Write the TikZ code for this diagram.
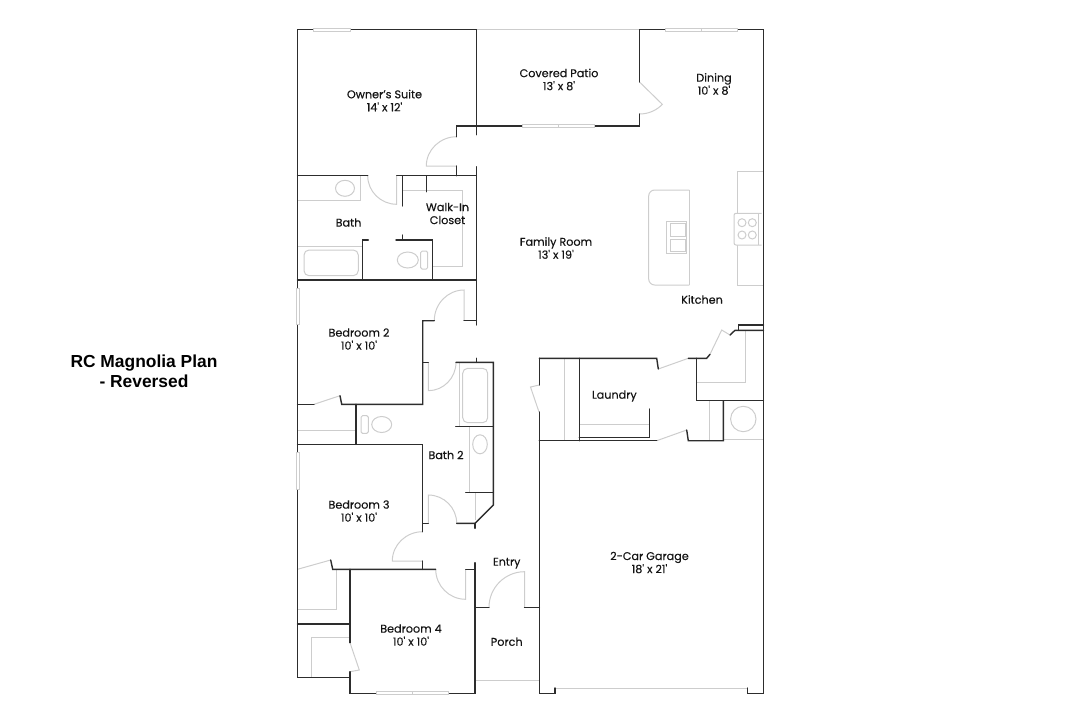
\documentclass[tikz,border=0pt]{standalone}
\usepackage{fontspec}
\setmainfont{Poppins}[Ligatures=TeXOff]
\newfontfamily\titlefont{Liberation Sans}
\usetikzlibrary{calc}
\definecolor{Wall}{RGB}{45, 45, 45}
\definecolor{Fixture}{RGB}{205, 205, 205}
\definecolor{Label}{RGB}{20, 20, 20}
\tikzset{
    wall/.style={draw=Wall, line width=1.4pt, line cap=round, line join=miter},
    fixture/.style={draw=Fixture, line width=1pt},
    windowbox/.style={draw=Fixture, line width=0.9pt, fill=white},
    roomlabel/.style={text=Label, font=\fontsize{11.2}{13}\selectfont\addfontfeature{FakeBold=0.25}, align=center, inner sep=0pt},
    titlelabel/.style={text=black, font=\titlefont\bfseries\fontsize{17.4}{20}\selectfont, align=center, inner sep=0pt}
}
% door swing: free end, hinge-side corner, other end, hinge
\newcommand{\doorswing}[4]{
    \draw[fixture] (#1) .. controls ($(#1)!0.55!(#2)$) and ($(#3)!0.55!(#2)$) .. (#3) -- (#4);
}
\begin{document}
\begin{tikzpicture}[x=1pt, y=-1pt]
    \useasboundingbox (0,0) rectangle (1085,723);

    % Fixtures: owner's bath and closet
    \draw[fixture] (297,200.3) -- (360.7,200.3) -- (360.7,175.7);
    \draw[fixture] (345,188.3) ellipse (9.5 and 8);
    \draw[fixture] (297,246) -- (362,246);
    \draw[fixture, rounded corners=5pt] (358.3,250) -- (304,250) -- (304,275.7) -- (358.3,275.7) -- cycle;
    \draw[fixture, rounded corners=1.5pt] (420.7,251) rectangle (427.7,269);
    \draw[fixture] (407.8,260) ellipse (10.5 and 8);
    \draw[fixture] (402.7,190.7) -- (462.7,190.7) -- (462.7,266.7) -- (433,266.7);

    % Fixtures: kitchen
    \draw[fixture, rounded corners=6pt] (689.3,190) -- (648.7,190) -- (648.7,285) -- (689.3,285);
    \draw[fixture] (689.3,190) -- (689.3,285);
    \draw[fixture] (666.7,221) rectangle (686.7,253.3);
    \draw[fixture] (670.7,223.3) rectangle (685,236);
    \draw[fixture] (670.7,239) rectangle (685,251.7);
    \draw[fixture] (763,171) -- (737.3,171) -- (737.3,285.7) -- (763,285.7);
    \draw[fixture, fill=white, rounded corners=2pt] (761.7,213.3) -- (734,213.3) -- (734,245) -- (761.7,245);
    \draw[fixture] (758.3,213.3) -- (758.3,245);
    \foreach \burnerx in {742, 752.3} {
        \foreach \burnery in {222.7, 235} {
            \draw[fixture] (\burnerx,\burnery) circle (4);
        }
    }

    % Fixtures: pantry, laundry, mechanical
    \draw[fixture] (745,330.3) -- (745,382.3) -- (696.7,382.3);
    \draw[fixture] (564.7,358.3) -- (564.7,440.7);
    \draw[fixture] (579.3,424.3) -- (649.3,424.3);
    \draw[fixture] (709.3,400.7) -- (709.3,440.7);
    \draw[fixture] (743.3,419) circle (12.7);
    \draw[fixture] (723.3,439) -- (763.5,439);

    % Fixtures: bath 2
    \draw[fixture] (459.3,362.3) -- (459.3,426.7);
    \draw[fixture, rounded corners=5pt] (462.7,422.7) -- (462.7,368.3) -- (487.7,368.3) -- (487.7,422.7) -- cycle;
    \draw[fixture] (469.3,426.7) -- (469.3,492.7);
    \draw[fixture] (480,444.3) ellipse (7.3 and 9.5);
    \draw[fixture] (475.3,492.7) -- (475.3,520);
    \draw[fixture, rounded corners=1.5pt] (361,415.7) rectangle (368.3,433.3);
    \draw[fixture] (381.7,424.5) ellipse (10 and 8);

    % Fixtures: bedroom closets
    \draw[fixture] (297.5,430.7) -- (356,430.7);
    \draw[fixture] (297.5,609.3) -- (336,609.3) -- (336,569.3);
    \draw[fixture] (311.7,677.7) -- (311.7,637.3) -- (350,637.3);

    % Open edges of patio and porch
    \draw[fixture] (476.3,29.7) -- (639.5,29.7);
    \draw[fixture] (475,680) -- (539.3,680);
    \draw[fixture] (555,688) -- (747.3,688);

    % Door leaves
    \doorswing{456.7,136.7}{426.3,136.7}{426.3,166}{456.7,166}
    \doorswing{367.7,175.7}{367.7,204.3}{396.7,204.3}{396.7,175.7}
    \doorswing{434.3,320.7}{434.3,290}{464,290}{464,320.7}
    \doorswing{456,362.3}{456,390.7}{428.3,390.7}{428.3,362.3}
    \doorswing{456.7,523.3}{456.7,495}{428.3,495}{428.3,523.3}
    \doorswing{422.7,531.7}{392.3,531.7}{392.3,561}{422.7,561}
    \doorswing{435.7,569.3}{435.7,599.3}{465.7,599.3}{465.7,569.3}
    \doorswing{489,607.3}{489,571.7}{524.5,571.7}{524.5,607.3}
    \draw[fixture] (639.5,82) -- (662.3,104.3) .. controls (657,110) and (649,114) .. (639.5,114);
    \draw[fixture] (297.5,569.3) -- (330.7,560);
    \draw[fixture] (314,404.3) -- (340,395.7);
    \draw[fixture] (350,642.7) -- (359.3,670) -- (350,671.7);
    \draw[fixture] (710,354.3) -- (721.7,330) -- (730,335);
    \draw[fixture] (658.3,369) -- (688.3,358.3);
    \draw[fixture] (686.7,430) -- (656.7,440.7);
    \draw[fixture] (539.3,385) -- (530.5,387) -- (539,412);

    % Exterior walls
    \draw[wall] (476.3,134.7) -- (476.3,29.7) -- (297.5,29.7) -- (297.5,677.7) -- (350,677.7);
    \draw[wall] (350,671.7) -- (350,693.3) -- (475,693.3) -- (475,562.7);
    \draw[wall] (350,642.7) -- (350,569.3);
    \draw[wall] (594,126) -- (639.5,126) -- (639.5,114);
    \draw[wall] (639.5,82) -- (639.5,29.7) -- (763.5,29.7) -- (763.5,693.3) -- (747.3,693.3) -- (747.3,688);
    \draw[wall] (555,688) -- (555,693.3) -- (539.3,693.3) -- (539.3,412);
    \draw[wall] (539.3,385) -- (539.3,358.3);

    % Owner's suite walls
    \draw[wall] (521.7,126) -- (456.7,126) -- (456.7,136.7);
    \draw[wall] (456.7,166) -- (456.7,175.7);
    \draw[wall] (297.5,175.7) -- (367.7,175.7);
    \draw[wall] (396.7,175.7) -- (476.3,175.7);
    \draw[wall] (476.3,166.7) -- (476.3,325);
    \draw[wall] (402.7,175.7) -- (402.7,206);
    \draw[wall] (402.7,235) -- (402.7,240);
    \draw[wall] (426.3,175.7) -- (426.3,191.7);
    \draw[wall] (362.3,280) -- (362.3,240) -- (368.3,240);
    \draw[wall] (396,240) -- (432.7,240) -- (432.7,280);
    \draw[wall] (297.5,280) -- (476.3,280);

    % Bedroom and bath 2 walls
    \draw[wall] (434.3,320.7) -- (422.7,320.7) -- (422.7,404.3) -- (341.7,404.3) -- (340,395.7);
    \draw[wall] (464,320.7) -- (476.3,320.7);
    \draw[wall] (297.5,404.3) -- (314,404.3);
    \draw[wall] (356,404.3) -- (356,444.3);
    \draw[wall] (297.5,444.3) -- (422.7,444.3) -- (422.7,531.7);
    \draw[wall] (422.7,362.3) -- (428.3,362.3);
    \draw[wall] (476.3,358.3) -- (476.3,362.3);
    \draw[wall] (456,362.3) -- (493.3,362.3) -- (493.3,505) -- (475,523.3) -- (456.7,523.3);
    \draw[wall] (475,523.3) -- (475,528.3);
    \draw[wall] (455.7,426.7) -- (493.3,426.7);
    \draw[wall] (465.7,492.7) -- (493.3,492.7);
    \draw[wall] (422.7,523.3) -- (428.3,523.3);
    \draw[wall] (422.7,561) -- (422.7,569.3);
    \draw[wall] (330.7,560) -- (332.7,569.3) -- (435.7,569.3);
    \draw[wall] (465.7,569.3) -- (475,569.3);
    \draw[wall] (297.5,624) -- (350,624);
    \draw[wall] (475,607.3) -- (489,607.3);
    \draw[wall] (524.5,607.3) -- (539.3,607.3);

    % Laundry and kitchen walls
    \draw[wall] (539.3,358.3) -- (656.7,358.3) -- (658.3,369);
    \draw[wall] (688.3,358.3) -- (706.7,358.3) -- (710,354.3);
    \draw[wall] (730,335) -- (735,330.3) -- (763.5,330.3);
    \draw[wall] (738.3,330.3) -- (738.3,325) -- (763.5,325);
    \draw[wall] (696.7,358.3) -- (696.7,400.7) -- (763.5,400.7);
    \draw[wall] (723.3,400.7) -- (723.3,440.7) -- (688.3,440.7) -- (686.7,430);
    \draw[wall] (539.3,440.7) -- (656.7,440.7);
    \draw[wall] (579.3,358.3) -- (579.3,440.7);
    \draw[wall] (579.3,437.3) -- (649.3,437.3) -- (649.3,409);

    % Windows
    \draw[windowbox] (313,28.2) rectangle (350,31.2);
    \draw[windowbox] (522,124.5) rectangle (594,127.5);
    \draw[fixture] (558,124.5) -- (558,127.5);
    \draw[windowbox] (665.5,28.2) rectangle (737.5,31.2);
    \draw[fixture] (701.7,28.2) -- (701.7,31.2);
    \draw[windowbox] (296,288.3) rectangle (299,324.3);
    \draw[windowbox] (296,452.7) rectangle (299,489);
    \draw[windowbox] (376.7,691.8) rectangle (448.3,694.8);
    \draw[fixture] (412.3,691.8) -- (412.3,694.8);

    % Room labels
    \node[roomlabel] (suite) at (384.5,100.5) {Owner’s Suite\\14' x 12'};
    \node[roomlabel] (bath) at (348.5,222.5) {Bath};
    \node[roomlabel] (closet) at (447.5,213.5) {Walk-In\\Closet};
    \node[roomlabel] (patio) at (559,79.5) {Covered Patio\\13' x 8'};
    \node[roomlabel] (dining) at (714,84) {Dining\\10' x 8'};
    \node[roomlabel] (family) at (556,248) {Family Room\\13' x 19'};
    \node[roomlabel] (kitchen) at (702,299.5) {Kitchen};
    \node[roomlabel] (laundry) at (614.3,396) {Laundry};
    \node[roomlabel] (bed2) at (359,339) {Bedroom 2\\10' x 10'};
    \node[roomlabel] (bathtwo) at (446,455) {Bath 2};
    \node[roomlabel] (bed3) at (359,511) {Bedroom 3\\10' x 10'};
    \node[roomlabel] (bed4) at (411,635) {Bedroom 4\\10' x 10'};
    \node[roomlabel] (entry) at (506.7,563.2) {Entry};
    \node[roomlabel] (porch) at (506.7,641.7) {Porch};
    \node[roomlabel] (garage) at (649.5,562.5) {2-Car Garage\\18' x 21'};

    % Plan title
    \node[titlelabel] (plantitle) at (144,371) {RC Magnolia Plan\\- Reversed};
\end{tikzpicture}
\end{document}
